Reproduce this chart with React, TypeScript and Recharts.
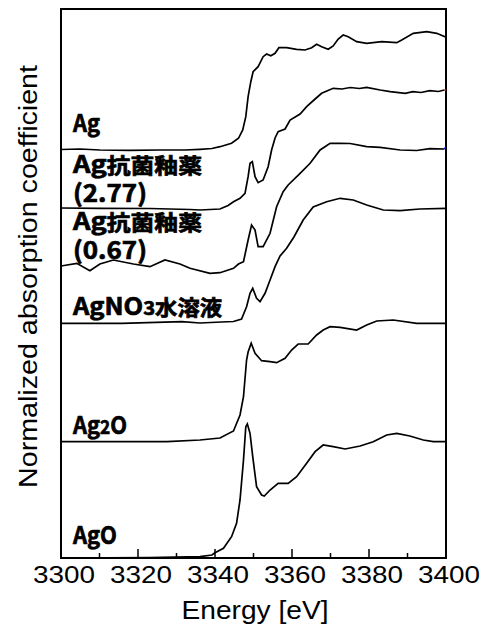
import React from 'react';
import { LineChart, Line, XAxis, YAxis, ReferenceArea, ReferenceLine } from 'recharts';

// Energy [eV] vs normalized absorption (stacked with offsets, arbitrary units)
const energyTicks = [3300, 3320, 3340, 3360, 3380, 3400];
const minorTicks = [3310, 3330, 3350, 3370, 3390];

const agMetal: [number, number][] = [
  [3300, 4.085], [3304.9, 4.09], [3310.1, 4.08], [3317.9, 4.077], [3325.7, 4.08], [3332.2, 4.08],
  [3336.1, 4.087], [3339.2, 4.095], [3341.3, 4.113], [3344.3, 4.147], [3346.1, 4.197], [3347.2, 4.28],
  [3348.0, 4.413], [3348.6, 4.613], [3349.3, 4.763], [3349.9, 4.863], [3351.2, 4.913], [3352.5, 5.013],
  [3353.4, 5.04], [3354.5, 5.023], [3355.6, 5.047], [3356.6, 5.103], [3358.6, 5.103], [3361.2, 5.087],
  [3363.4, 5.08], [3365.1, 5.103], [3366.4, 5.137], [3367.7, 5.113], [3369.4, 5.087], [3370.7, 5.12],
  [3372.0, 5.19], [3373.3, 5.23], [3374.6, 5.213], [3376.8, 5.163], [3379.4, 5.147], [3383.3, 5.163],
  [3387.2, 5.153], [3388.5, 5.18], [3391.5, 5.247], [3395.0, 5.263], [3397.6, 5.247], [3400, 5.207],
];

const glaze277: [number, number][] = [
  [3300, 3.5], [3310.1, 3.497], [3323.1, 3.495], [3333.5, 3.485], [3336.1, 3.48], [3341.3, 3.49],
  [3343.4, 3.525], [3344.8, 3.563], [3346.5, 3.597], [3347.8, 3.647], [3348.6, 3.813], [3349.1, 3.947],
  [3349.7, 3.963], [3350.4, 3.813], [3351.2, 3.753], [3352.5, 3.78], [3353.8, 3.913], [3354.7, 4.08],
  [3355.6, 4.2], [3356.4, 4.263], [3358.2, 4.29], [3359.5, 4.38], [3362.1, 4.44], [3363.8, 4.513],
  [3366.0, 4.59], [3367.7, 4.647], [3370.7, 4.697], [3373.0, 4.69], [3375.1, 4.705], [3377.5, 4.695],
  [3379.4, 4.707], [3382.9, 4.68], [3385.5, 4.663], [3389.4, 4.647], [3391.4, 4.663], [3393.5, 4.655],
  [3395.8, 4.673], [3398.0, 4.665], [3399.6, 4.68],
];
const glaze277Tail: [number, number][] = [[3399.6, 4.68], [3400, 4.68]];

const glaze067: [number, number][] = [
  [3300, 2.92], [3304.1, 2.947], [3307.5, 2.873], [3310.1, 2.94], [3313.6, 2.98], [3318.8, 2.94],
  [3323.1, 2.913], [3327.0, 2.98], [3330.9, 2.94], [3333.5, 2.897], [3338.7, 2.847], [3341.3, 2.853],
  [3344.8, 2.897], [3346.1, 2.94], [3347.4, 2.963], [3348.6, 3.18], [3349.5, 3.33], [3350.4, 3.28],
  [3351.2, 3.113], [3352.5, 3.113], [3354.3, 3.247], [3356.0, 3.513], [3357.7, 3.663], [3359.0, 3.73],
  [3362.1, 3.847], [3364.7, 3.947], [3367.3, 4.08], [3369.9, 4.147], [3372.5, 4.147], [3375.1, 4.145],
  [3379.4, 4.113], [3382.9, 4.107], [3388.1, 4.08], [3392.4, 4.075], [3395.8, 4.093], [3399.6, 4.09],
];
const glaze067Tail: [number, number][] = [[3399.6, 4.09], [3400, 4.11]];

const agNO3: [number, number][] = [
  [3300, 2.347], [3315.8, 2.347], [3331.4, 2.363], [3336.1, 2.35], [3341.7, 2.36], [3344.8, 2.365],
  [3346.9, 2.39], [3348.2, 2.513], [3349.1, 2.647], [3349.8, 2.697], [3350.8, 2.597], [3351.7, 2.563],
  [3353.0, 2.647], [3354.3, 2.78], [3355.6, 2.913], [3356.9, 3.02], [3358.6, 3.097], [3360.5, 3.21],
  [3362.9, 3.38], [3365.5, 3.51], [3369.0, 3.563], [3372.5, 3.597], [3375.9, 3.58], [3379.4, 3.53],
  [3383.7, 3.48], [3388.1, 3.473], [3393.2, 3.49], [3400, 3.497],
];

const ag2O: [number, number][] = [
  [3300, 1.163], [3327.5, 1.163], [3336.1, 1.18], [3341.3, 1.2], [3344.8, 1.27], [3346.5, 1.43],
  [3347.4, 1.613], [3348.2, 1.98], [3348.6, 2.06], [3349.4, 2.147], [3350.4, 2.047], [3352.1, 1.973],
  [3354.3, 1.963], [3356.0, 1.953], [3358.2, 1.997], [3359.9, 2.08], [3361.6, 2.14], [3364.2, 2.14],
  [3366.4, 2.23], [3368.1, 2.28], [3369.9, 2.313], [3372.5, 2.307], [3376.8, 2.28], [3379.4, 2.33],
  [3382.0, 2.37], [3386.3, 2.38], [3392.4, 2.347], [3400, 2.347],
];

const agO: [number, number][] = [
  [3300, 0.0], [3323.1, 0.004], [3336.1, 0.013], [3339.2, 0.03], [3340.0, 0.053], [3342.2, 0.097],
  [3344.3, 0.213], [3345.6, 0.347], [3346.5, 0.58], [3347.4, 0.98], [3348.0, 1.313], [3348.4, 1.34],
  [3349.1, 1.247], [3349.8, 1.013], [3350.8, 0.713], [3352.1, 0.63], [3352.8, 0.62], [3354.3, 0.68],
  [3356.4, 0.747], [3359.0, 0.747], [3361.2, 0.813], [3363.8, 0.947], [3366.0, 1.063], [3368.1, 1.13],
  [3370.7, 1.113], [3373.8, 1.09], [3377.7, 1.12], [3381.1, 1.163], [3384.6, 1.23], [3387.2, 1.247],
  [3390.6, 1.22], [3394.1, 1.18], [3396.7, 1.163], [3400, 1.163],
];

const toRows = (pts: [number, number][]) => pts.map(([e, v]) => ({ e, v }));

const series = [
  { name: 'Ag', pts: agMetal, color: '#000' },
  { name: 'Ag抗菌釉薬(2.77)', pts: glaze277, color: '#000' },
  { name: 'Ag抗菌釉薬(0.67)', pts: glaze067, color: '#000' },
  { name: 'AgNO3水溶液', pts: agNO3, color: '#000' },
  { name: 'Ag2O', pts: ag2O, color: '#000' },
  { name: 'AgO', pts: agO, color: '#000' },
  { name: 'tail277', pts: glaze277Tail, color: '#ff0000' },
  { name: 'tail067', pts: glaze067Tail, color: '#0000ff' },
];

const W = 484;
const H = 628;
const Y_MAX = 5.49;

const EnergyTick = (props: any) => {
  const { x, y, payload } = props;
  return (
    <text x={x + 3} y={y + 25} textAnchor="middle" fontFamily="'Liberation Sans', Arial, sans-serif"
      fontSize={24} fill="#000" textLength={62} lengthAdjust="spacingAndGlyphs">
      {payload.value}
    </text>
  );
};

const LBL = "'Noto Sans CJK JP', sans-serif";

type Part = { t: string; size?: number };
const labels: { parts: Part[]; x: number; y: number; w: number }[] = [
  { parts: [{ t: 'Ag' }], x: 73, y: 132, w: 27 },
  { parts: [{ t: 'Ag' }, { t: '抗菌釉薬', size: 21 }], x: 73, y: 173, w: 129 },
  { parts: [{ t: '(2.77)' }], x: 73, y: 202, w: 74 },
  { parts: [{ t: 'Ag' }, { t: '抗菌釉薬', size: 21 }], x: 73, y: 230, w: 129 },
  { parts: [{ t: '(0.67)' }], x: 73, y: 259, w: 74 },
  { parts: [{ t: 'AgNO' }, { t: '3', size: 19 }, { t: '水溶液', size: 21 }], x: 73, y: 315, w: 149 },
  { parts: [{ t: 'Ag' }, { t: '2', size: 19 }, { t: 'O' }], x: 73, y: 434, w: 54 },
  { parts: [{ t: 'AgO' }], x: 73, y: 544, w: 44 },
];

export default function App() {
  return (
    <div style={{ position: 'absolute', left: 0, top: 0, width: W, height: H, background: '#fff' }}>
      <LineChart width={W} height={H} margin={{ top: 9, right: 38, left: 61, bottom: 0 }}>
        <XAxis dataKey="e" type="number" domain={[3300, 3400]} ticks={energyTicks} allowDataOverflow
          height={70} tickLine={false} tickSize={0} tickMargin={0} tick={<EnergyTick />}
          axisLine={{ stroke: '#000', strokeWidth: 2 }} />
        <YAxis type="number" domain={[0, Y_MAX]} hide allowDataOverflow />
        <ReferenceArea x1={3300} x2={3400} y1={0} y2={Y_MAX} fill="none" stroke="#000" strokeWidth={2} />
        {energyTicks.slice(1, -1).map((t) => (
          <ReferenceLine key={'M' + t} segment={[{ x: t, y: 0 }, { x: t, y: 0.09 }]} stroke="#000" strokeWidth={1.5} />
        ))}
        {minorTicks.map((t) => (
          <ReferenceLine key={'m' + t} segment={[{ x: t, y: 0 }, { x: t, y: 0.05 }]} stroke="#000" strokeWidth={1.5} />
        ))}
        {series.map((s) => (
          <Line key={s.name} data={toRows(s.pts)} dataKey="v" type="linear" stroke={s.color}
            strokeWidth={1.7} dot={false} isAnimationActive={false} />
        ))}
      </LineChart>
      <svg width={W} height={H} style={{ position: 'absolute', left: 0, top: 0, pointerEvents: 'none' }}>
        {labels.map((l, i) => (
          <text key={i} x={l.x} y={l.y} fontFamily={LBL} fontWeight={700} fontSize={24} fill="#000"
            stroke="#000" strokeWidth={0.7} textLength={l.w} lengthAdjust="spacingAndGlyphs">
            {l.parts.map((p, j) => (
              <tspan key={j} fontSize={p.size ?? 24}>{p.t}</tspan>
            ))}
          </text>
        ))}
        <text x={255} y={619} textAnchor="middle" fontFamily="'Liberation Sans', Arial, sans-serif"
          fontSize={25} fill="#000" textLength={147} lengthAdjust="spacingAndGlyphs">Energy [eV]</text>
        <text transform="translate(36.5,276.5) rotate(-90)" x={0} y={0} textAnchor="middle"
          fontFamily="'Liberation Sans', Arial, sans-serif" fontSize={25} fill="#000"
          textLength={423} lengthAdjust="spacingAndGlyphs">Normalized absorption coefficient</text>
      </svg>
    </div>
  );
}
